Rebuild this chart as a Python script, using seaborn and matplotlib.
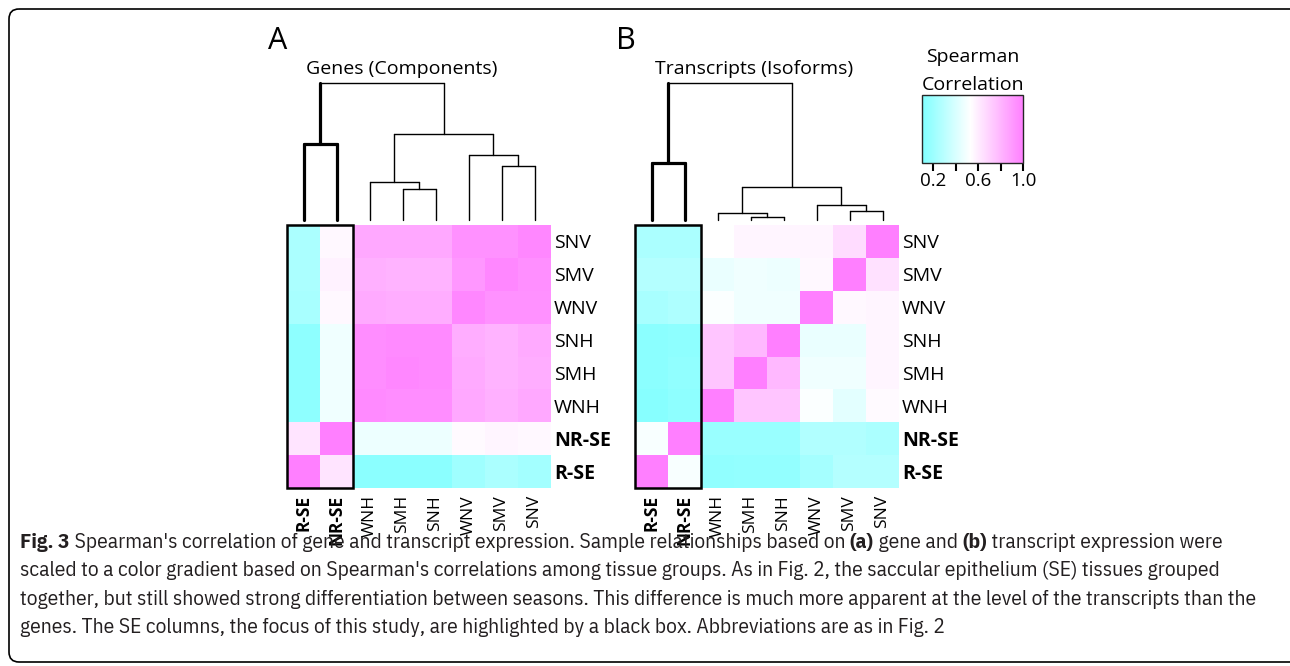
import numpy as np
import pandas as pd
import matplotlib
matplotlib.use('Agg')
import matplotlib.pyplot as plt
import seaborn as sns
from matplotlib.colors import LinearSegmentedColormap
from matplotlib.patches import Rectangle, FancyBboxPatch

W, H = 1290, 666

# tissue groups, in column order (rows are shown in reverse)
col_labels = ['R-SE', 'NR-SE', 'WNH', 'SMH', 'SNH', 'WNV', 'SMV', 'SNV']
row_labels = ['SNV', 'SMV', 'WNV', 'SNH', 'SMH', 'WNH', 'NR-SE', 'R-SE']
se_labels = ['R-SE', 'NR-SE']

# Spearman correlations, rows top to bottom
genes_rho = [
    [0.25, 0.56, 0.85, 0.85, 0.85, 0.93, 0.93, 0.97],
    [0.25, 0.58, 0.82, 0.81, 0.81, 0.91, 0.97, 0.94],
    [0.24, 0.56, 0.84, 0.83, 0.83, 0.97, 0.93, 0.93],
    [0.15, 0.48, 0.95, 0.96, 0.96, 0.83, 0.81, 0.84],
    [0.15, 0.48, 0.95, 0.97, 0.96, 0.84, 0.81, 0.83],
    [0.15, 0.48, 0.96, 0.95, 0.95, 0.85, 0.82, 0.85],
    [0.63, 1.00, 0.47, 0.47, 0.47, 0.55, 0.57, 0.56],
    [1.00, 0.63, 0.14, 0.14, 0.14, 0.21, 0.25, 0.22],
]
transcripts_rho = [
    [0.25, 0.25, 0.53, 0.57, 0.57, 0.57, 0.66, 1.00],
    [0.28, 0.28, 0.46, 0.48, 0.47, 0.56, 1.00, 0.64],
    [0.24, 0.26, 0.52, 0.48, 0.48, 1.00, 0.56, 0.57],
    [0.14, 0.15, 0.74, 0.79, 1.00, 0.46, 0.46, 0.57],
    [0.14, 0.16, 0.74, 1.00, 0.79, 0.48, 0.48, 0.57],
    [0.13, 0.15, 1.00, 0.74, 0.74, 0.52, 0.44, 0.55],
    [0.51, 1.00, 0.19, 0.19, 0.19, 0.27, 0.27, 0.25],
    [1.00, 0.51, 0.16, 0.17, 0.17, 0.23, 0.28, 0.28],
]

# dendrogram merges: leaves 0-7 follow col_labels, merge k makes cluster 8+k
genes_left = [3, 2, 6, 5, 0, 9, 12]
genes_right = [4, 8, 7, 10, 1, 11, 13]
genes_height = [0.229, 0.280, 0.393, 0.478, 0.556, 0.627, 1.0]

tx_left = [3, 2, 6, 5, 9, 0, 13]
tx_right = [4, 8, 7, 10, 11, 1, 12]
tx_height = [0.024, 0.049, 0.068, 0.108, 0.239, 0.417, 1.0]

cbar_ticks = [0.2, 0.4, 0.6, 0.8, 1.0]
cbar_ticklabels = ['0.2', '', '0.6', '', '1.0']

caption = [
    [('Fig. 3', True),
     (" Spearman's correlation of gene and transcript expression. Sample relationships based on ", False),
     ('(a)', True), (' gene and ', False), ('(b)', True), (' transcript expression were', False)],
    [("scaled to a color gradient based on Spearman's correlations among tissue groups. As in Fig. 2, "
      "the saccular epithelium (SE) tissues grouped", False)],
    [("together, but still showed strong differentiation between seasons. This difference is much more "
      "apparent at the level of the transcripts than the", False)],
    [("genes. The SE columns, the focus of this study, are highlighted by a black box. "
      "Abbreviations are as in Fig. 2", False)],
]

sns.set_theme(style='white')
plt.rcParams['font.family'] = ['Open Sans', 'DejaVu Sans']
plt.rcParams['text.color'] = 'black'
plt.rcParams['xtick.color'] = 'black'
plt.rcParams['ytick.color'] = 'black'
plt.rcParams['xtick.labelcolor'] = 'black'
plt.rcParams['ytick.labelcolor'] = 'black'

cmap = LinearSegmentedColormap.from_list(
    'rho', [(0.0, '#7fffff'), (0.48, '#ffffff'), (1.0, '#ff7fff')])
VMIN, VMAX = 0.1, 1.0

fig = plt.figure(figsize=(W / 100, H / 100), dpi=100)


def box(x0, y0, x1, y1):
    # pixel box (top-left origin) -> figure fraction rect
    return [x0 / W, 1 - y1 / H, (x1 - x0) / W, (y1 - y0) / H]


def draw_dendro(ax, left, right, height):
    xs = {i: i + 0.5 for i in range(8)}
    hs = {i: 0.0 for i in range(8)}
    members = {i: {i} for i in range(8)}
    se = {0, 1}
    for k, (a, b, h) in enumerate(zip(left, right, height)):
        c = 8 + k
        members[c] = members[a] | members[b]
        lw_a = 2.3 if members[a] <= se else 1.0
        lw_b = 2.3 if members[b] <= se else 1.0
        lw_h = 2.3 if members[c] == se else 1.0
        ax.plot([xs[a], xs[a]], [hs[a], h], color='black', lw=lw_a, clip_on=False)
        ax.plot([xs[b], xs[b]], [hs[b], h], color='black', lw=lw_b, clip_on=False)
        ax.plot([xs[a], xs[b]], [h, h], color='black', lw=lw_h, clip_on=False)
        xs[c] = (xs[a] + xs[b]) / 2
        hs[c] = h
    ax.set_xlim(0, 8)
    ax.set_ylim(0, 1)
    ax.axis('off')


def draw_panel(x0, rho, left, right, height, letter, title, title_x):
    ax = fig.add_axes(box(x0, 225, x0 + 264, 488))
    df = pd.DataFrame(rho, index=row_labels, columns=col_labels)
    sns.heatmap(df, ax=ax, cmap=cmap, vmin=VMIN, vmax=VMAX, cbar=False,
                xticklabels=True, yticklabels=True)
    ax.yaxis.tick_right()
    ax.tick_params(axis='y', length=0, pad=2, labelsize=14, rotation=0,
                   labelright=True, labelleft=False)
    ax.tick_params(axis='x', length=0, pad=5, labelsize=12.5, rotation=90)
    for t in ax.get_xticklabels() + ax.get_yticklabels():
        if t.get_text() in se_labels:
            t.set_fontweight('bold')
    ax.add_patch(Rectangle((0, 0), 2, 8, fill=False, ec='black', lw=1.8,
                           clip_on=False, zorder=5))

    dax = fig.add_axes(box(x0, 83.3, x0 + 264, 220))
    draw_dendro(dax, left, right, height)

    fig.text((x0 - 19) / W, 1 - 41 / H, letter, fontsize=22, ha='left', va='center')
    fig.text(title_x / W, 1 - 69 / H, title, fontsize=14, ha='center', va='center')


draw_panel(287, genes_rho, genes_left, genes_right, genes_height,
           'A', 'Genes (Components)', 402)
draw_panel(635, transcripts_rho, tx_left, tx_right, tx_height,
           'B', 'Transcripts (Isoforms)', 754)

# colour key
cax = fig.add_axes(box(921.7, 95, 1023.3, 162.7))
sm = plt.cm.ScalarMappable(norm=plt.Normalize(VMIN, VMAX), cmap=cmap)
cb = fig.colorbar(sm, cax=cax, orientation='horizontal')
cb.set_ticks(cbar_ticks)
cb.set_ticklabels(cbar_ticklabels)
cax.tick_params(axis='x', length=6, width=1.5, labelsize=13.5, pad=1,
                direction='out', bottom=True)
cb.outline.set_linewidth(1.0)
fig.text(973 / W, 1 - 57 / H, 'Spearman', fontsize=14, ha='center', va='center')
fig.text(973 / W, 1 - 85 / H, 'Correlation', fontsize=14, ha='center', va='center')

# caption in a condensed face, sized so the first line fills the width
cap_font = ['IBM Plex Sans Condensed', 'DejaVu Sans']
renderer = fig.canvas.get_renderer()


def line_width(parts, size):
    w = 0
    for txt, bold in parts:
        t = fig.text(0, 0, txt, fontsize=size, family=cap_font,
                     fontweight='bold' if bold else 'normal')
        w += t.get_window_extent(renderer).width
        t.remove()
    return w


cap_size = 10 * 1202 / line_width(caption[0], 10)
for y, parts in zip([548, 576, 605, 633], caption):
    x = 20
    for txt, bold in parts:
        t = fig.text(x / W, 1 - y / H, txt, fontsize=cap_size, family=cap_font,
                     fontweight='bold' if bold else 'normal', ha='left', va='baseline',
                     color='#231f20')
        x += t.get_window_extent(renderer).width

# rounded frame
oax = fig.add_axes([0, 0, 1, 1])
oax.set_xlim(0, W)
oax.set_ylim(H, 0)
oax.axis('off')
oax.add_patch(FancyBboxPatch((9, 9), 1300, 653, boxstyle='round,pad=0,rounding_size=10',
                             fill=False, ec='black', lw=1.2))

fig.savefig('out.png', dpi=100)
